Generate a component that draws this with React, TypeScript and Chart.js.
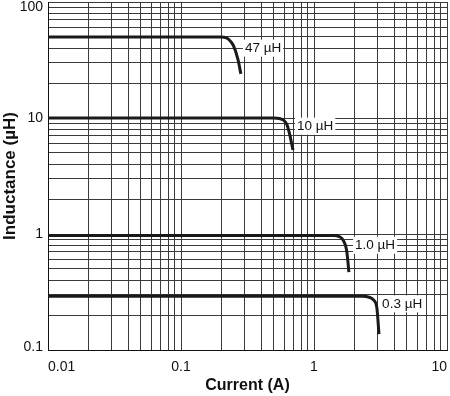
import React, { useEffect, useRef } from 'react';
import { Chart, registerables } from 'chart.js';

Chart.register(...registerables);

// ---- data ----
const xTickLabels = ['0.01', '0.1', '1', '10'];
const yTickLabels = ['0.1', '1', '10', '100'];

const curve47X = [0.01, 0.2, 0.22, 0.235, 0.248, 0.268, 0.282];
const curve47Y = [50, 50, 49, 46, 42, 32, 24];

const curve10X = [0.01, 0.5, 0.55, 0.59, 0.625, 0.655, 0.695];
const curve10Y = [10, 10, 9.9, 9.6, 8.8, 7.3, 5.3];

const curve1X = [0.01, 1.4, 1.55, 1.66, 1.76, 1.83];
const curve1Y = [0.97, 0.97, 0.95, 0.88, 0.72, 0.47];

const curve03X = [0.01, 2.3, 2.6, 2.8, 2.97, 3.08];
const curve03Y = [0.29, 0.29, 0.285, 0.27, 0.23, 0.137];

const curveNames = ['47 µH', '10 µH', '1.0 µH', '0.3 µH'];
const curveLabelX = [0.414, 1.02, 2.88, 4.6];
const curveLabelY = [40, 8.5, 0.8, 0.25];

const FONT = "'Liberation Sans', Arial, Helvetica, sans-serif";

function decadeTicks(labels: string[]) {
  const vals = labels.map(Number);
  const out: { value: number }[] = [];
  for (let i = 0; i < vals.length - 1; i++) {
    for (let k = 1; k <= 9; k++) out.push({ value: vals[i] * k });
  }
  out.push({ value: vals[vals.length - 1] });
  return out;
}

function labelFor(labels: string[], value: number) {
  const l = labels.find((s) => Math.abs(Number(s) - value) / Number(s) < 1e-6);
  return l ?? '';
}

const pts = (xs: number[], ys: number[]) => xs.map((x, i) => ({ x, y: ys[i] }));

const curveLabelPlugin = {
  id: 'curveLabels',
  afterDatasetsDraw(chart: any) {
    const { ctx, scales } = chart;
    ctx.save();
    ctx.font = `13.5px ${FONT}`;
    ctx.textAlign = 'center';
    ctx.textBaseline = 'middle';
    curveNames.forEach((name, i) => {
      const px = scales.x.getPixelForValue(curveLabelX[i]);
      const py = scales.y.getPixelForValue(curveLabelY[i]);
      const w = ctx.measureText(name).width + 4;
      const h = 17;
      ctx.fillStyle = '#ffffff';
      ctx.fillRect(px - w / 2, py - h / 2, w, h);
      ctx.fillStyle = '#111111';
      ctx.fillText(name, px, py + 0.5);
    });
    ctx.restore();
  },
};

export default function App() {
  const ref = useRef<HTMLCanvasElement>(null);

  useEffect(() => {
    if (!ref.current) return;
    const lineDs = (xs: number[], ys: number[]) => ({
      data: pts(xs, ys),
      borderColor: '#1a1a1a',
      borderWidth: 3,
      pointRadius: 0,
      cubicInterpolationMode: 'monotone' as const,
      fill: false,
    });
    const chart = new Chart(ref.current, {
      type: 'line',
      data: {
        datasets: [
          lineDs(curve47X, curve47Y),
          lineDs(curve10X, curve10Y),
          lineDs(curve1X, curve1Y),
          lineDs(curve03X, curve03Y),
        ],
      },
      options: {
        animation: false,
        responsive: false,
        layout: { padding: { top: 2, right: 3, left: 0, bottom: 0 } },
        plugins: { legend: { display: false }, tooltip: { enabled: false } },
        scales: {
          x: {
            type: 'logarithmic',
            min: Number(xTickLabels[0]),
            max: Number(xTickLabels[xTickLabels.length - 1]),
            afterBuildTicks: (scale: any) => {
              scale.ticks = decadeTicks(xTickLabels);
            },
            afterFit: (scale: any) => {
              scale.height = 46;
              scale.paddingLeft = 0;
              scale.paddingRight = 0;
            },
            grid: { color: '#3a3a3a', lineWidth: 1, drawTicks: false },
            border: { display: true, color: '#111', width: 1 },
            ticks: {
              autoSkip: false,
              maxRotation: 0,
              minRotation: 0,
              align: 'inner',
              padding: 9,
              color: '#111',
              font: { family: FONT, size: 14 },
              callback: (v: any) => labelFor(xTickLabels, Number(v)),
            },
            title: {
              display: true,
              text: 'Current (A)',
              color: '#111',
              font: { family: FONT, size: 16, weight: 'bold' },
              padding: { top: 0, bottom: 1 },
            },
          },
          y: {
            type: 'logarithmic',
            min: Number(yTickLabels[0]),
            max: Number(yTickLabels[yTickLabels.length - 1]),
            afterBuildTicks: (scale: any) => {
              scale.ticks = decadeTicks(yTickLabels);
            },
            afterFit: (scale: any) => {
              scale.width = 48;
              scale.paddingTop = 0;
              scale.paddingBottom = 0;
            },
            grid: { color: '#3a3a3a', lineWidth: 1, drawTicks: false },
            border: { display: true, color: '#111', width: 1 },
            ticks: {
              autoSkip: false,
              padding: 5,
              color: '#111',
              font: (ctx: any) => {
                const v = ctx.tick ? ctx.tick.value : 1;
                const first = Number(yTickLabels[0]);
                const last = Number(yTickLabels[yTickLabels.length - 1]);
                let lh = '14px';
                if (Math.abs(v - last) < 1e-9) lh = '11px';
                else if (Math.abs(v - first) < 1e-9) lh = '6px';
                return { family: FONT, size: 14, lineHeight: lh };
              },
              callback: (v: any) => {
                const val = Number(v);
                const s = labelFor(yTickLabels, val);
                if (!s) return '';
                if (s === yTickLabels[yTickLabels.length - 1]) return ['', s];
                if (s === yTickLabels[0]) return [s, ''];
                return s;
              },
            },
            title: {
              display: true,
              text: 'Inductance (µH)',
              color: '#111',
              font: { family: FONT, size: 17, weight: 'bold' },
              padding: { top: 0, bottom: 0 },
            },
          },
        },
      },
      plugins: [curveLabelPlugin],
    } as any);
    return () => chart.destroy();
  }, []);

  return (
    <div style={{ position: 'fixed', left: 0, top: 0, width: 450, height: 396, background: '#fff' }}>
      <canvas ref={ref} width={450} height={396} style={{ display: 'block', width: 450, height: 396 }} />
    </div>
  );
}
